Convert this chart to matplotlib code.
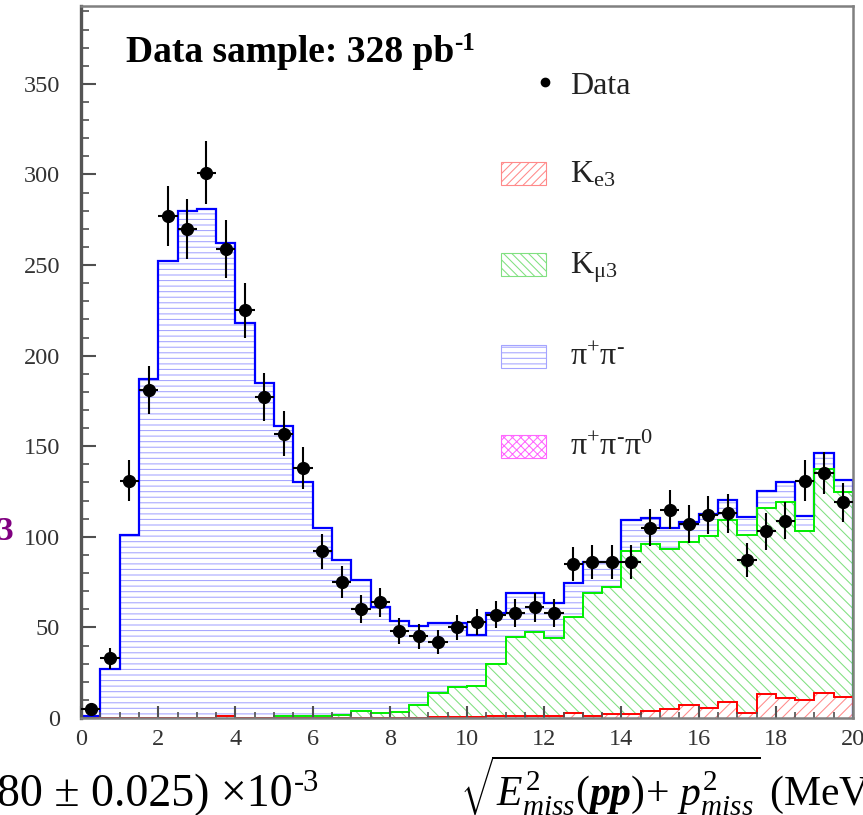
import numpy as np
import matplotlib
matplotlib.use('Agg')
import matplotlib.pyplot as plt
from matplotlib.patches import Rectangle
from matplotlib.text import Annotation

plt.rcParams['font.family'] = ['Liberation Serif', 'DejaVu Serif']
plt.rcParams['mathtext.fontset'] = 'custom'
plt.rcParams['mathtext.rm'] = 'Liberation Serif'
plt.rcParams['mathtext.it'] = 'Liberation Serif:italic'
plt.rcParams['mathtext.bf'] = 'Liberation Serif:bold'
plt.rcParams['mathtext.bfit'] = 'Liberation Serif:italic:bold'
plt.rcParams['hatch.linewidth'] = 0.75

# 40 bins of 0.5 MeV from 0 to 20
edges = np.linspace(0, 20, 41)
centers = 0.5 * (edges[:-1] + edges[1:])

data_counts = [5, 33, 131, 181, 277, 270, 301, 259, 225, 177,
               157, 138, 92, 75, 60, 64, 48, 45, 42, 50,
               53, 57, 58, 61, 58, 85, 86, 86, 86, 105,
               115, 107, 112, 113, 87, 103, 109, 131, 135, 119]

ke3 = [0, 0, 0, 0, 0, 0, 0, 1, 0, 0,
       0, 0, 0, 0, 0, 0, 0, 0, 0.5, 0.5,
       0.5, 1, 1, 1, 1, 3, 1, 2, 2, 4,
       5, 7, 5.5, 9, 2.5, 13, 11, 10, 14, 11.5]

kmu3 = [0, 0, 0, 0, 0, 0, 0, 0, 0, 0,
        1, 1, 1, 1.5, 4, 3, 3.5, 7, 13.5, 16.5,
        17, 29, 43.5, 46.5, 43, 53, 68, 70.5, 90, 92,
        88.5, 90, 95, 100.5, 98.5, 103, 108.5, 93, 123.5, 113.5]

pipi = [1, 27, 101, 187, 252, 280, 281, 261, 218, 185,
        160, 129, 104, 85.5, 72, 58, 50, 44, 38.5, 35.5,
        28.5, 28, 24.5, 21.5, 19.5, 18.5, 17, 13.5, 17.5, 14.5,
        11.5, 11, 12, 11, 10, 9.5, 10.5, 8.5, 8.5, 6.5]

red_top = np.array(ke3)
green_top = red_top + np.array(kmu3)
blue_top = green_top + np.array(pipi)

fig = plt.figure(figsize=(8.63, 8.15), dpi=100)
ax = fig.add_axes([81/863, 1 - 718/815, 772/863, 712/815])

# hatched fills
ax.stairs(blue_top, edges, baseline=green_top, fill=True, facecolor='none',
          edgecolor='#a4a4ff', hatch='---', linewidth=0)
ax.stairs(green_top, edges, baseline=red_top, fill=True, facecolor='none',
          edgecolor='#80e080', hatch='\\\\\\', linewidth=0)
ax.stairs(red_top, edges, baseline=0, fill=True, facecolor='none',
          edgecolor='#ff8a8a', hatch='///', linewidth=0)

# outlines
ax.stairs(blue_top, edges, color='#0000ff', linewidth=1.6)
ax.stairs(green_top, edges, color='#00ee00', linewidth=1.4)
ax.stairs(red_top, edges, color='#ff0000', linewidth=1.4)

ax.errorbar(centers, data_counts, yerr=np.sqrt(data_counts), xerr=0.25,
            fmt='o', color='black', ms=8.5, elinewidth=1.5, capsize=0, zorder=5)

ax.set_xlim(0, 20)
ax.set_ylim(0, 393)
ax.set_xticks(range(0, 21, 2))
ax.set_xticks(np.arange(0, 20.01, 0.5), minor=True)
ax.set_yticks(range(0, 351, 50))
ax.set_yticks(range(0, 391, 10), minor=True)
ax.tick_params(axis='both', which='both', direction='in', color='#505050',
               labelcolor='#333333', labelsize=17.5)
ax.tick_params(axis='y', which='major', length=11, width=1.5, pad=15)
ax.tick_params(axis='y', which='minor', length=6, width=1.2)
ax.tick_params(axis='x', which='major', length=9, width=1.5, pad=8)
ax.tick_params(axis='x', which='minor', length=4, width=1.2)

ax.spines['left'].set_color('#555555')
ax.spines['left'].set_linewidth(2.4)
for s in ['top', 'right', 'bottom']:
    ax.spines[s].set_color('#808080')
    ax.spines[s].set_linewidth(1.8)

# title
title = ax.text(0.058, 0.921, 'Data sample: 328 pb', transform=ax.transAxes,
                fontsize=27, fontweight='bold', va='baseline', ha='left')
ax.annotate('-1', xy=(1, 1), xycoords=title, xytext=(0, 2), textcoords='offset points',
            fontsize=18, fontweight='bold', va='top', ha='left')

# legend
ax.plot([0.601], [0.893], 'o', color='black', ms=6, transform=ax.transAxes, clip_on=False)
ax.text(0.633, 0.877, 'Data', transform=ax.transAxes, fontsize=23,
        va='baseline', color='#222222')

boxes = [(0.7486, '#ff8a8a', '////', r'K$_{\mathrm{e3}}$'),
         (0.6208, '#80e080', '\\\\\\\\', r'K$_{\mathrm{\mu3}}$'),
         (0.4916, '#a4a4ff', '---', r'π$^{+}$π$^{\mathrm{‐}}$'),
         (0.3652, '#ff66ff', 'xxxx', r'π$^{+}$π$^{\mathrm{‐}}$π$^{0}$')]
for yb, hc, hp, lab in boxes:
    ax.add_patch(Rectangle((0.544, yb), 0.0583, 0.0325, transform=ax.transAxes,
                           facecolor='none', edgecolor=hc, hatch=hp, linewidth=0.8))
    ax.text(0.633, yb + 0.004, lab, transform=ax.transAxes, fontsize=23,
            va='baseline', color='#222222')

# pieces of slide text around the plot
fig.text(13/863, 1 - 540/815, '3', fontsize=24, fontweight='bold', color='#800080',
         ha='right', va='baseline')
bl = fig.text(-3/863, 1 - 806/815, '80 ± 0.025) ×10', fontsize=33, va='baseline', ha='left')
fig.add_artist(Annotation('-3', xy=(1, 1), xycoords=bl, xytext=(1, 3),
                          textcoords='offset points', fontsize=22, va='top', ha='left'))
fig.text(460/863, 1 - 806/815,
         r'$\sqrt{E^{2}_{miss}(\mathbfit{pp})\!+\,p^{2}_{miss}}$ (MeV)',
         fontsize=30, va='baseline', ha='left')

fig.savefig('out.png', dpi=100)
